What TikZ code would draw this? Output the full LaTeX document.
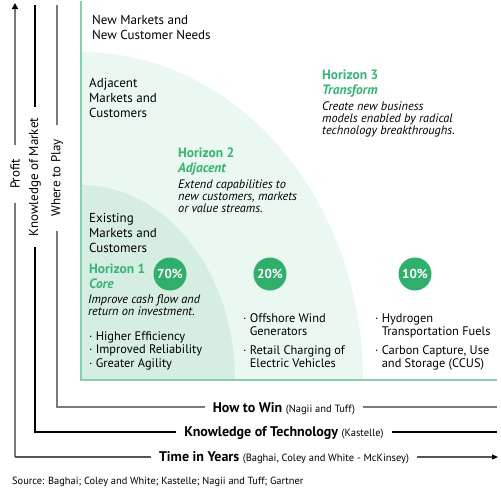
\documentclass[tikz,border=0pt]{standalone}
\usepackage{fontspec}
\setmainfont{PT Sans}
\usetikzlibrary{arrows.meta}
\definecolor{hgreen}{HTML}{35B474}
\definecolor{cgreen}{HTML}{2FAE6C}
\definecolor{lgreen}{HTML}{EBF7F1}
\definecolor{mgreen}{HTML}{D5EEE1}
\definecolor{bline}{HTML}{86D1AC}
\definecolor{gline}{HTML}{7A7A7A}
\definecolor{dline}{HTML}{555555}
\newcommand\tlines[1]{\begin{tabular}[t]{@{}l@{}}#1\end{tabular}}
\newcommand\bdot{·\ }
\newcommand\bsp{\phantom{·\ }}
\begin{document}
\begin{tikzpicture}[x=1pt,y=-1pt,
  txt/.style={anchor=base west,inner sep=0pt,font=\fontsize{13}{15}\selectfont},
  head/.style={anchor=base west,inner sep=0pt,text=hgreen,font=\fontsize{13.5}{15}\selectfont\bfseries},
  desc/.style={anchor=base west,inner sep=0pt,font=\fontsize{12.3}{11.8}\selectfont\itshape},
  bul/.style={anchor=base west,inner sep=0pt,font=\fontsize{12.4}{13.6}\selectfont},
  pct/.style={circle,fill=cgreen,minimum size=33pt,inner sep=0pt,text=white,font=\fontsize{13}{13}\selectfont\bfseries},
  vlab/.style={rotate=90,fill=white,inner ysep=1pt,font=\fontsize{13}{13}\selectfont},
  hlab/.style={fill=white,inner ysep=1pt,inner xsep=8pt,font=\fontsize{14}{14}\selectfont\bfseries}
]
\useasboundingbox (0,0) rectangle (501,501);
% shaded quadrants
\begin{scope}
\clip (81,0) rectangle (497,380);
\fill[lgreen] (81,380) ellipse [x radius=282, y radius=328];
\fill[mgreen] (81,380) ellipse [x radius=154, y radius=195];
\end{scope}
% frame
\coordinate (bTop) at (81,1);
\coordinate (bCorner) at (81,380);
\coordinate (bRight) at (497,380);
\draw[bline,line width=1.8pt] (bTop) -- (bCorner) -- (bRight);
% axes
\coordinate (pTop) at (15,3);
\coordinate (pCorner) at (15,457);
\coordinate (pEnd) at (498,457);
\coordinate (kTop) at (35,5);
\coordinate (kCorner) at (35,432);
\coordinate (kEnd) at (497,432);
\coordinate (wTop) at (57,5);
\coordinate (wCorner) at (57,407);
\coordinate (wEnd) at (497,407);
\draw[gline,line width=1.8pt,-{Triangle[length=6pt,width=6pt,color=black]}] (pCorner) -- (pTop);
\draw[dline,line width=1.2pt,-{Triangle[length=6pt,width=5pt,color=black]}] (pCorner) -- (pEnd);
\draw[black,line width=1.1pt] (kTop) -- (kCorner) -- (kEnd);
\draw[gline,line width=1.8pt] (wTop) -- (wCorner) -- (wEnd);
% axis labels
\node[vlab,inner xsep=14pt] (profit) at (15,174) {Profit};
\node[vlab,inner xsep=11pt] (kmarket) at (35,177) {Knowledge of Market};
\node[vlab,inner xsep=14pt] (wplay) at (57,178) {Where to Play};
\node[hlab,anchor=base] (hwin) at (284,412) {How to Win \textnormal{\fontsize{10.5}{10}\selectfont(Nagii and Tuff)}};
\node[hlab,anchor=base] (ktech) at (284,436) {Knowledge of Technology \textnormal{\fontsize{10.5}{10}\selectfont(Kastelle)}};
\node[hlab,anchor=base] (time) at (284,461) {Time in Years \textnormal{\fontsize{10.5}{10}\selectfont(Baghai, Coley and White - McKinsey)}};
\node[txt,font=\fontsize{10.4}{10}\selectfont] (src) at (12,484) {Source: Baghai; Coley and White; Kastelle; Nagii and Tuff; Gartner};
% market labels
\node[txt] (newm) at (92,24) {\tlines{New Markets and\\New Customer Needs}};
\node[txt] (adjm) at (89,87) {\tlines{Adjacent\\Markets and\\Customers}};
\node[txt] (exm) at (89,222) {\tlines{Existing\\Markets and\\Customers}};
% horizon 1
\node[head] (h1) at (89,273) {\tlines{Horizon 1\\\itshape Core}};
\node[desc] (h1d) at (88,303) {\tlines{Improve cash flow and\\return on investment.}};
\node[bul] (h1b) at (89,340) {\tlines{\bdot Higher Efficiency\\\bdot Improved Reliability\\\bdot Greater Agility}};
\node[pct] (c70) at (170,274) {70\%};
% horizon 2
\node[head] (h2) at (178,157) {\tlines{Horizon 2\\\itshape Adjacent}};
\node[desc] (h2d) at (178,188) {\tlines{Extend capabilities to\\new customers, markets\\or value streams.}};
\node[pct] (c20) at (270,274) {20\%};
\node[bul] (h2b) at (243,322) {\tlines{\bdot Offshore Wind\\\bsp Generators}};
\node[bul] (h2c) at (243,354) {\tlines{\bdot Retail Charging of\\\bsp Electric Vehicles}};
% horizon 3
\node[head] (h3) at (322,79) {\tlines{Horizon 3\\\itshape Transform}};
\node[desc] (h3d) at (322,110) {\tlines{Create new business\\models enabled by radical\\technology breakthroughs.}};
\node[pct] (c10) at (415,274) {10\%};
\node[bul] (h3b) at (375,322) {\tlines{\bdot Hydrogen\\\bsp Transportation Fuels}};
\node[bul] (h3c) at (375,354) {\tlines{\bdot Carbon Capture, Use\\\bsp and Storage (CCUS)}};
\end{tikzpicture}
\end{document}
